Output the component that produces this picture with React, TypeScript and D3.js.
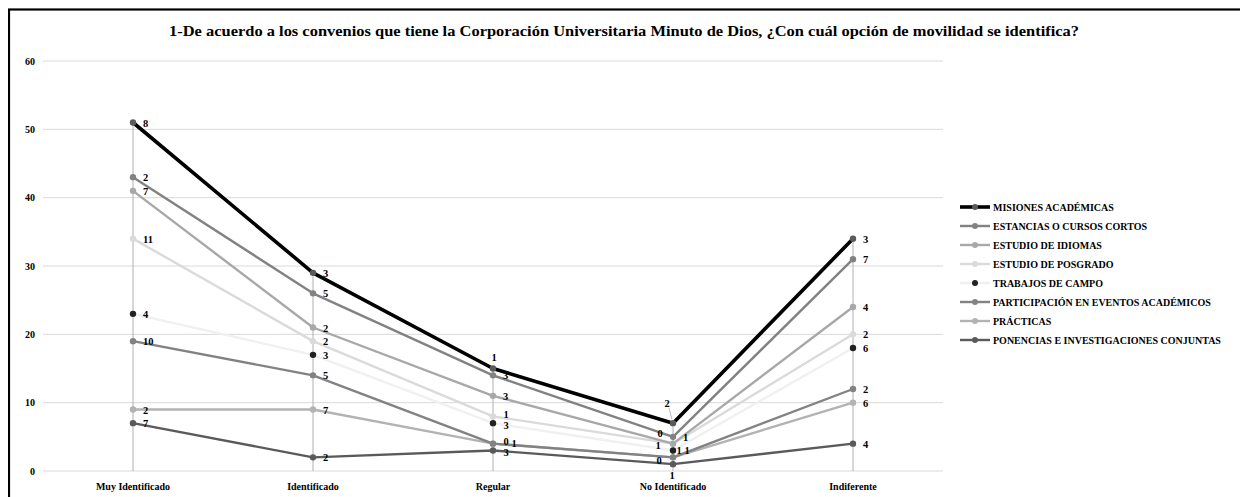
import React from "react";
import * as d3 from "d3";

const categories = ["Muy Identificado", "Identificado", "Regular", "No Identificado", "Indiferente"];
const yTicks = [0, 10, 20, 30, 40, 50, 60];

// Stacked line series values (bottom of stack first)
const ponencias = [7, 2, 3, 1, 4];
const practicas = [2, 7, 1, 1, 6];
const participacion = [10, 5, 0, 0, 2];
const trabajos = [4, 3, 3, 1, 6];
const posgrado = [11, 2, 1, 1, 2];
const idiomas = [7, 2, 3, 0, 4];
const estancias = [2, 5, 3, 1, 7];
const misiones = [8, 3, 1, 2, 3];

const title = "1-De acuerdo a los convenios que tiene la Corporación Universitaria Minuto de Dios, ¿Con cuál opción de movilidad se identifica?";

const series = [
  { key: "ponencias", name: "PONENCIAS E INVESTIGACIONES CONJUNTAS", values: ponencias, line: "#5a5a5a", marker: "#5a5a5a", w: 2.4 },
  { key: "practicas", name: "PRÁCTICAS", values: practicas, line: "#b3b3b3", marker: "#b3b3b3", w: 2.4 },
  { key: "participacion", name: "PARTICIPACIÓN EN EVENTOS ACADÉMICOS", values: participacion, line: "#828282", marker: "#828282", w: 2.4 },
  { key: "trabajos", name: "TRABAJOS DE CAMPO", values: trabajos, line: "#f0f0f0", marker: "#222222", w: 2.4 },
  { key: "posgrado", name: "ESTUDIO DE POSGRADO", values: posgrado, line: "#dadada", marker: "#dadada", w: 2.4 },
  { key: "idiomas", name: "ESTUDIO DE IDIOMAS", values: idiomas, line: "#a8a8a8", marker: "#a8a8a8", w: 2.4 },
  { key: "estancias", name: "ESTANCIAS O CURSOS CORTOS", values: estancias, line: "#828282", marker: "#828282", w: 2.4 },
  { key: "misiones", name: "MISIONES ACADÉMICAS", values: misiones, line: "#000000", marker: "#5a5a5a", w: 3.6 },
];

// label offsets (dx, dy) relative to point, text centred; default: to the right
const labelOffsets: Record<string, [number, number]> = {
  "misiones-2": [1, -11],
  "posgrado-2": [13, -2],
  "trabajos-2": [13, 2],
  "participacion-2": [13, -2],
  "ponencias-2": [13, 2],
  "practicas-2": [21, 0],
  "misiones-3": [-6, -20],
  "idiomas-3": [-13, -10],
  "posgrado-3": [-15, 2],
  "trabajos-3": [6, 0],
  "practicas-3": [14, -7],
  "participacion-3": [-14, 3],
  "ponencias-3": [-1, 11],
};

export default function App() {
  const W = 1240;
  const H = 489;
  const x = d3.scaleBand<string>().domain(categories).range([35, 935]).padding(0);
  const cx = (c: string) => (x(c) as number) + x.bandwidth() / 2;
  const y = d3.scaleLinear().domain([0, 60]).range([463, 53]);

  const rows = categories.map((c, i) => {
    const r: any = { cat: c };
    series.forEach((s) => (r[s.key] = s.values[i]));
    return r;
  });
  const stacked = d3.stack<any>().keys(series.map((s) => s.key))(rows);
  const top = stacked[stacked.length - 1];

  const line = d3
    .line<[number, number]>()
    .x((d) => d[0])
    .y((d) => d[1]);

  const font = "Liberation Serif";
  const legendOrder = [...series].reverse();

  return (
    <svg width={W} height={H} style={{ display: "block" }} fontFamily={font}>
      <rect x={0} y={0} width={W} height={H} fill="#fff" />
      <rect x={1} y={1.5} width={W + 20} height={H + 20} fill="#fff" stroke="#000" strokeWidth={2.2} />
      <text
        x={616}
        y={28}
        textAnchor="middle"
        fontSize={15.5}
        fontWeight="bold"
        fontFamily={font}
        textLength={910}
        lengthAdjust="spacingAndGlyphs"
      >
        {title}
      </text>

      {yTicks.map((t) => (
        <g key={t}>
          <line x1={35} x2={935} y1={y(t)} y2={y(t)} stroke="#d9d9d9" strokeWidth={1} />
          <text x={27} y={y(t) + 3.5} textAnchor="end" fontSize={10} fontWeight="bold" fontFamily={font}>
            {t}
          </text>
        </g>
      ))}

      {categories.map((c, i) => (
        <g key={c}>
          <line x1={cx(c)} x2={cx(c)} y1={y(top[i][1])} y2={y(0)} stroke="#b0b0b0" strokeWidth={1} />
          <text x={cx(c)} y={482} textAnchor="middle" fontSize={10} fontWeight="bold" fontFamily={font}>
            {c}
          </text>
        </g>
      ))}

      {stacked.map((layer, si) => {
        const s = series[si];
        const pts = layer.map((d, i) => [cx(categories[i]), y(d[1])] as [number, number]);
        return (
          <path key={s.key} d={line(pts) as string} fill="none" stroke={s.line} strokeWidth={s.w} strokeLinejoin="round" />
        );
      })}

      {stacked.map((layer, si) => {
        const s = series[si];
        return (
          <g key={s.key + "-m"}>
            {layer.map((d, i) => (
              <circle key={i} cx={cx(categories[i])} cy={y(d[1])} r={3.2} fill={s.marker} />
            ))}
          </g>
        );
      })}

      <line
        x1={cx(categories[3]) - 4}
        y1={y(top[3][1]) - 15}
        x2={cx(categories[3]) - 1}
        y2={y(top[3][1]) - 4}
        stroke="#a6a6a6"
        strokeWidth={0.8}
      />

      {stacked.map((layer, si) => {
        const s = series[si];
        return (
          <g key={s.key + "-l"}>
            {layer.map((d, i) => {
              const off = labelOffsets[`${s.key}-${i}`];
              const px = cx(categories[i]);
              const py = y(d[1]);
              if (off) {
                return (
                  <text key={i} x={px + off[0]} y={py + off[1] + 3.5} textAnchor="middle" fontSize={10.5} fontWeight="bold" fontFamily={font}>
                    {s.values[i]}
                  </text>
                );
              }
              return (
                <text key={i} x={px + 10} y={py + 4} fontSize={10.5} fontWeight="bold" fontFamily={font}>
                  {s.values[i]}
                </text>
              );
            })}
          </g>
        );
      })}

      {legendOrder.map((s, i) => {
        const ly = 199 + i * 19;
        return (
          <g key={s.key + "-leg"}>
            <line x1={952} x2={982} y1={ly} y2={ly} stroke={s.line} strokeWidth={s.w} />
            <circle cx={967} cy={ly} r={3} fill={s.marker} />
            <text x={985} y={ly + 3.5} fontSize={10} fontWeight="bold" fontFamily={font}>
              {s.name}
            </text>
          </g>
        );
      })}
    </svg>
  );
}
